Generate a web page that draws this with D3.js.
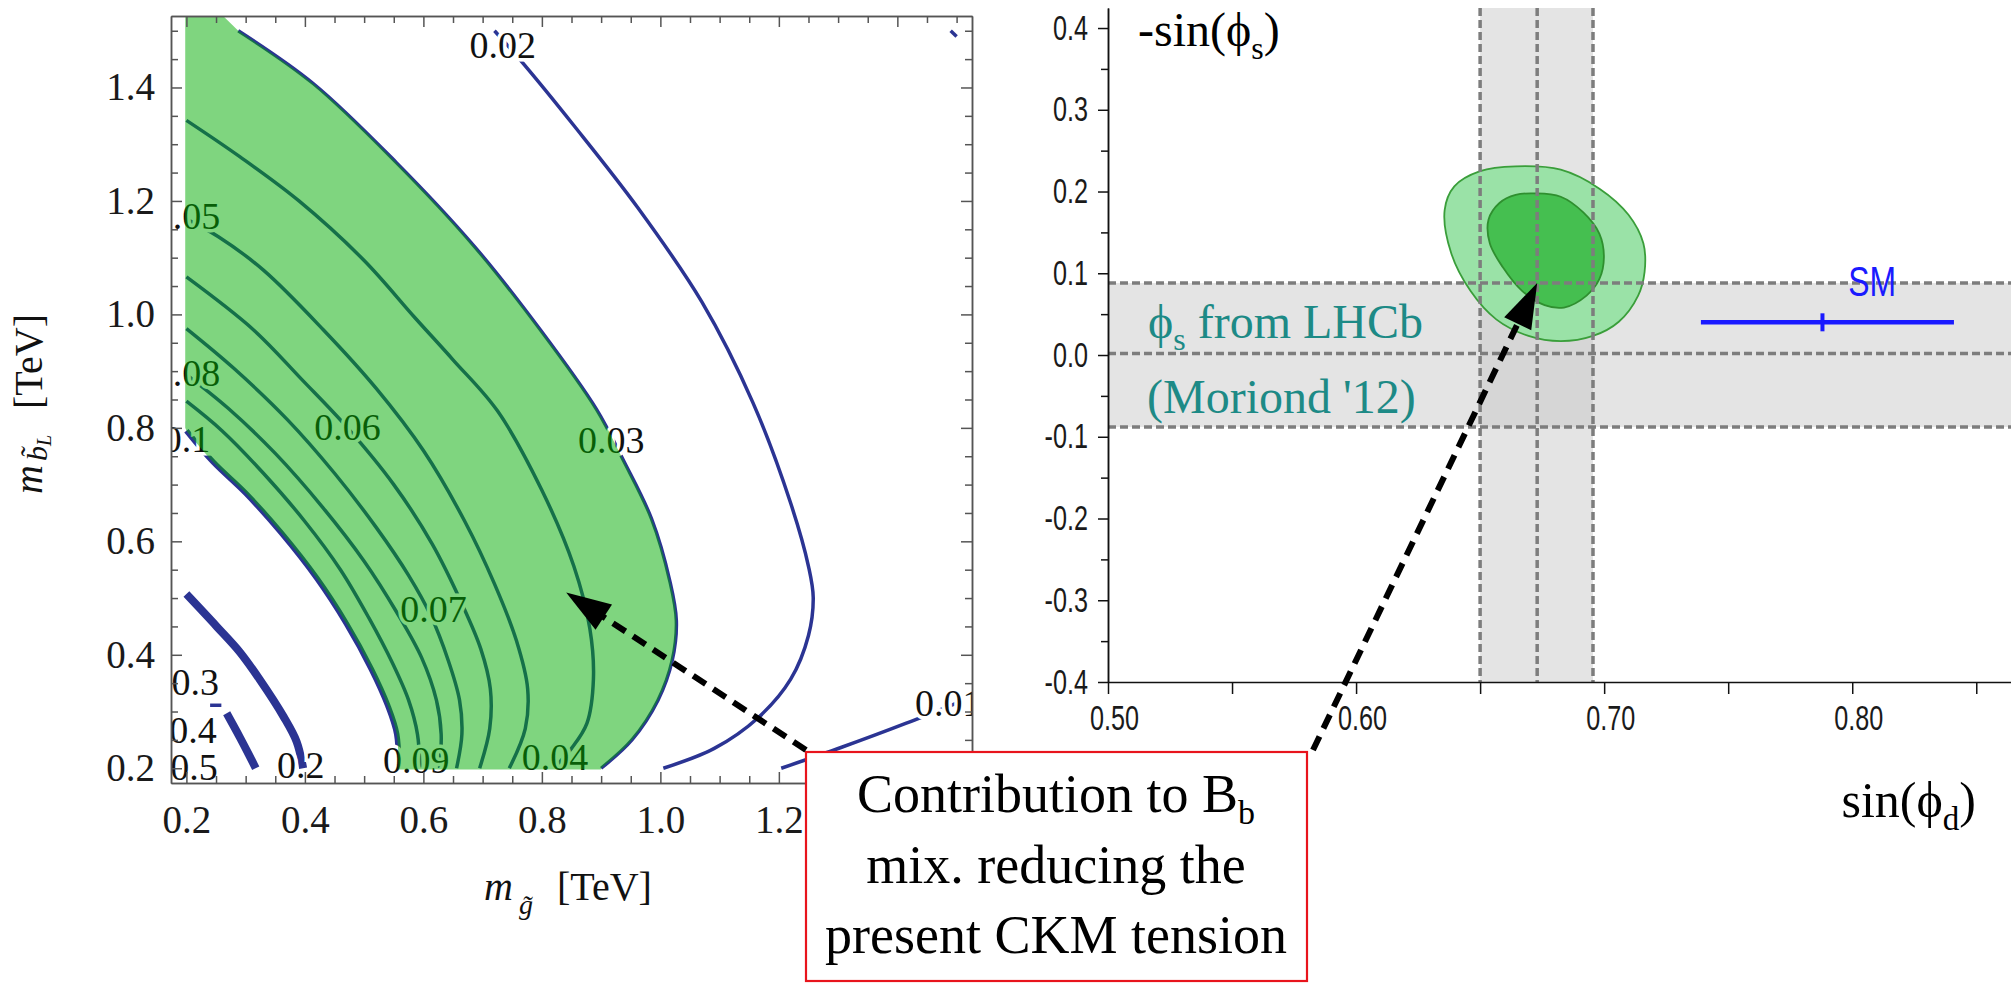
<!DOCTYPE html>
<html>
<head>
<meta charset="utf-8">
<script src="https://cdn.jsdelivr.net/npm/d3@7"></script>
<style>
  body { margin: 0; background: #fff; }
</style>
</head>
<body>
<svg id="fig" width="2011" height="986"></svg>
<script>
// ---- left panel data: contour lines (x = m_gluino, y = m_sbottom, TeV) ----
const cont001 = [[1.204,0.20],[1.306,0.237],[1.414,0.279],[1.50,0.315]];
const cont001b = [[1.49,1.50],[1.50,1.49]];
const cont002 = [[0.72,1.50],[0.768,1.443],[0.854,1.333],[0.962,1.188],[1.07,1.022],[1.156,0.845],[1.22,0.667],[1.25,0.556],[1.258,0.501],[1.25,0.434],[1.22,0.357],[1.166,0.29],[1.091,0.235],[1.005,0.20]];
const cont003 = [[0.2875,1.50],[0.414,1.407],[0.554,1.268],[0.686,1.12],[0.798,0.972],[0.892,0.833],[0.938,0.742],[0.985,0.64],[1.016,0.53],[1.027,0.46],[1.02,0.39],[0.996,0.32],[0.952,0.25],[0.90,0.20]];
const cont004 = [[0.20,1.342],[0.29,1.278],[0.39,1.20],[0.50,1.095],[0.585,0.995],[0.65,0.92],[0.725,0.83],[0.80,0.69],[0.854,0.556],[0.881,0.446],[0.887,0.357],[0.876,0.279],[0.85,0.235],[0.82,0.20]];
const cont005 = [[0.20,1.168],[0.254,1.137],[0.33,1.078],[0.431,0.973],[0.52,0.87],[0.60,0.76],[0.67,0.635],[0.72,0.525],[0.757,0.425],[0.776,0.34],[0.772,0.27],[0.745,0.20]];
const cont006 = [[0.20,1.066],[0.313,0.973],[0.395,0.885],[0.472,0.80],[0.55,0.70],[0.615,0.595],[0.665,0.49],[0.697,0.41],[0.713,0.34],[0.712,0.27],[0.695,0.20]];
const cont007 = [[0.20,0.975],[0.28,0.905],[0.37,0.815],[0.45,0.72],[0.52,0.625],[0.575,0.54],[0.612,0.47],[0.642,0.39],[0.661,0.32],[0.665,0.26],[0.656,0.20]];
const cont008 = [[0.20,0.894],[0.27,0.835],[0.35,0.755],[0.43,0.66],[0.50,0.565],[0.555,0.475],[0.597,0.395],[0.622,0.32],[0.63,0.26],[0.627,0.20]];
const cont009 = [[0.20,0.847],[0.26,0.795],[0.33,0.72],[0.40,0.635],[0.46,0.55],[0.508,0.465],[0.548,0.385],[0.575,0.32],[0.59,0.26],[0.594,0.20]];
const cont010 = [[0.20,0.795],[0.245,0.740],[0.30,0.685],[0.36,0.615],[0.42,0.535],[0.47,0.455],[0.512,0.375],[0.54,0.31],[0.555,0.26],[0.558,0.20]];
const cont02 = [[0.20,0.507],[0.251,0.45],[0.29,0.405],[0.324,0.356],[0.364,0.291],[0.386,0.247],[0.397,0.20]];
const cont03 = [[0.268,0.297],[0.29,0.255],[0.305,0.225],[0.317,0.20]];
const cont03b = [[0.240,0.311],[0.259,0.311]];

const labelText = ["0.02","0.03","0.04","0.05","0.06","0.07","0.08","0.09","0.1","0.2","0.3","0.4","0.5","0.01"];
const labelX    = [0.734, 0.917, 0.822, 0.201, 0.472, 0.617, 0.201, 0.588, 0.200, 0.393, 0.215, 0.211, 0.213, 1.486];
const labelY    = [1.474, 0.777, 0.218, 1.172, 0.800, 0.479, 0.895, 0.213, 0.778, 0.204, 0.350, 0.266, 0.200, 0.313];

const leftMajor = [0.2, 0.4, 0.6, 0.8, 1.0, 1.2, 1.4];
const leftMinor = d3.range(0.25, 1.51, 0.05).filter(v => Math.abs(v * 5 - Math.round(v * 5)) > 1e-6);

// ---- right panel data ----
const phiSBand = [-0.088, 0.002, 0.088];   // -sin(phi_s) from LHCb: low, centre, high
const phiDBand = [0.650, 0.673, 0.6955];   // sin(phi_d): low, centre, high
const outerCL = [[0.6643,0.2308],[0.6825,0.2267],[0.6981,0.2035],[0.7098,0.1715],[0.7158,0.1366],[0.7163,0.1017],[0.7137,0.0727],[0.7059,0.0407],[0.6955,0.0233],[0.6825,0.0169],[0.6695,0.0233],[0.6565,0.0436],[0.6461,0.0785],[0.6383,0.125],[0.6357,0.1773],[0.6396,0.2064],[0.65,0.225]];
const innerCL = [[0.6721,0.1977],[0.6825,0.1936],[0.6916,0.1744],[0.6981,0.1483],[0.6999,0.1192],[0.6981,0.093],[0.6929,0.0727],[0.6838,0.0581],[0.676,0.061],[0.6669,0.0785],[0.6591,0.1076],[0.6539,0.1366],[0.6534,0.1657],[0.6578,0.186],[0.6643,0.1959]];
const smPoint = [0.788, 0.040];
const smRange = [0.739, 0.841];
const rightYMajor = [-0.4, -0.3, -0.2, -0.1, 0.0, 0.1, 0.2, 0.3, 0.4];
const rightYMinor = [-0.35, -0.25, -0.15, -0.05, 0.05, 0.15, 0.25, 0.35];
const rightXTicks = [0.50, 0.55, 0.60, 0.65, 0.70, 0.75, 0.80, 0.85];
const rightXLabels = [0.50, 0.60, 0.70, 0.80];

const serif = '"Liberation Serif","Times New Roman",serif';
const sans = '"Liberation Sans",Arial,sans-serif';
const squeeze = 0.72;   // condensed look of the right panel's labels

const svg = d3.select('#fig');

// ================= left panel =================
const lx = d3.scaleLinear().domain([0.174, 1.526]).range([171, 972]);
const ly = d3.scaleLinear().domain([0.174, 1.526]).range([783, 16]);
const smooth = d3.line().x(d => lx(d[0])).y(d => ly(d[1])).curve(d3.curveCatmullRom);
const straight = d3.line().x(d => lx(d[0])).y(d => ly(d[1]));

svg.append('clipPath').attr('id', 'clipL')
  .append('rect').attr('x', 171).attr('y', 16).attr('width', 801).attr('height', 767);
const plotL = svg.append('g').attr('clip-path', 'url(#clipL)');

const navy = '#2b3493';
const thin = [cont001, cont001b, cont002, cont003, cont004, cont005, cont006, cont007, cont008, cont009, cont03b];
plotL.selectAll('path.thin').data(thin).join('path')
  .attr('d', smooth).attr('fill', 'none').attr('stroke', navy).attr('stroke-width', 3.5);
plotL.append('path').attr('d', smooth(cont010)).attr('fill', 'none').attr('stroke', navy).attr('stroke-width', 5.5);
plotL.selectAll('path.thick').data([cont02, cont03]).join('path')
  .attr('d', smooth).attr('fill', 'none').attr('stroke', navy).attr('stroke-width', 8);

plotL.selectAll('text.lab').data(labelText).join('text')
  .attr('x', (d, i) => lx(labelX[i])).attr('y', (d, i) => ly(labelY[i]) + 12)
  .attr('text-anchor', 'middle').attr('font-family', serif).attr('font-size', 38)
  .attr('fill', '#111').attr('stroke', '#fff').attr('stroke-width', 7)
  .attr('paint-order', 'stroke').text(d => d);

// green allowed region drawn as a half-transparent overlay
const regionD = straight([[0.198, 1.526], [0.262, 1.526], cont003[0]])
  + smooth(cont003).replace(/^M/, 'L')
  + straight([[0.90, 0.198], [0.558, 0.198]]).replace(/^M/, 'L')
  + smooth(cont010.slice().reverse()).replace(/^M/, 'L')
  + straight([[0.198, 0.80]]).replace(/^M/, 'L') + 'Z';
plotL.append('path').attr('d', regionD).attr('fill', 'rgb(0,171,0)').attr('fill-opacity', 0.5);

// frame with inward ticks on all four sides
function frameAxis(axis, tf, size, values, labels, pad) {
  const g = svg.append('g').attr('transform', tf)
    .call(axis.tickValues(values).tickSize(-size).tickSizeOuter(0).tickPadding(pad)
      .tickFormat(labels ? (d => d.toFixed(1)) : ''));
  g.select('.domain').attr('stroke', '#555').attr('stroke-width', 1.5);
  g.selectAll('.tick line').attr('stroke', '#555').attr('stroke-width', 1.5);
  g.attr('font-family', serif).attr('font-size', 39).attr('fill', '#1a1a1a');
  g.selectAll('text').attr('fill', '#1a1a1a');
  return g;
}
frameAxis(d3.axisBottom(lx), 'translate(0,783)', 11, leftMajor, true, 22);
frameAxis(d3.axisBottom(lx), 'translate(0,783)', 7, leftMinor, false, 0);
frameAxis(d3.axisTop(lx), 'translate(0,16)', 11, leftMajor, false, 0);
frameAxis(d3.axisTop(lx), 'translate(0,16)', 7, leftMinor, false, 0);
frameAxis(d3.axisLeft(ly), 'translate(171,0)', 11, leftMajor, true, 16);
frameAxis(d3.axisLeft(ly), 'translate(171,0)', 7, leftMinor, false, 0);
frameAxis(d3.axisRight(ly), 'translate(972,0)', 11, leftMajor, false, 0);
frameAxis(d3.axisRight(ly), 'translate(972,0)', 7, leftMinor, false, 0);

// axis titles
const xt = svg.append('text').attr('x', 568).attr('y', 900).attr('text-anchor', 'middle')
  .attr('font-family', serif).attr('font-size', 40).attr('fill', '#111');
xt.append('tspan').attr('font-style', 'italic').text('m');
xt.append('tspan').attr('font-style', 'italic').attr('font-size', 28).attr('dx', 6).attr('dy', 14).text('g\u0303');
xt.append('tspan').attr('dx', 24).attr('dy', -14).text('[TeV]');

const yt = svg.append('text').attr('transform', 'translate(42,404) rotate(-90)').attr('text-anchor', 'middle')
  .attr('font-family', serif).attr('font-size', 40).attr('fill', '#111');
yt.append('tspan').attr('font-style', 'italic').text('m');
yt.append('tspan').attr('font-style', 'italic').attr('font-size', 30).attr('dx', 4).attr('dy', 5).text('b\u0303');
yt.append('tspan').attr('font-style', 'italic').attr('font-size', 20).attr('dy', 4).text('L');
yt.append('tspan').attr('dx', 26).attr('dy', -9).text('[TeV]');

// ================= right panel =================
const rx = d3.scaleLinear().domain([0.5, 0.864]).range([1108, 2011]);
const ry = d3.scaleLinear().domain([-0.4, 0.4245]).range([682, 8]);
const right = svg.append('g');

right.append('rect').attr('x', rx(0.5)).attr('width', 2011 - rx(0.5))
  .attr('y', ry(phiSBand[2])).attr('height', ry(phiSBand[0]) - ry(phiSBand[2])).attr('fill', '#e4e4e4');
right.append('rect').attr('x', rx(phiDBand[0])).attr('width', rx(phiDBand[2]) - rx(phiDBand[0]))
  .attr('y', ry(0.4245)).attr('height', ry(-0.4) - ry(0.4245)).attr('fill', '#e4e4e4');
right.append('rect').attr('x', rx(phiDBand[0])).attr('width', rx(phiDBand[2]) - rx(phiDBand[0]))
  .attr('y', ry(phiSBand[2])).attr('height', ry(phiSBand[0]) - ry(phiSBand[2])).attr('fill', '#d6d6d6');

const closed = d3.line().x(d => rx(d[0])).y(d => ry(d[1])).curve(d3.curveCatmullRomClosed);
right.append('path').attr('d', closed(outerCL)).attr('fill', '#9ae2a7').attr('stroke', '#3a9e3a').attr('stroke-width', 1.8);
right.append('path').attr('d', closed(innerCL)).attr('fill', '#45bf50').attr('stroke', '#2f8f2f').attr('stroke-width', 1.8);

right.selectAll('line.vband').data(phiDBand).join('line')
  .attr('x1', d => rx(d)).attr('x2', d => rx(d)).attr('y1', ry(0.4245)).attr('y2', ry(-0.4))
  .attr('stroke', '#7d7d7d').attr('stroke-width', 3.5).attr('stroke-dasharray', '8,4');
right.selectAll('line.hband').data(phiSBand).join('line')
  .attr('x1', rx(0.5)).attr('x2', 2011).attr('y1', d => ry(d)).attr('y2', d => ry(d))
  .attr('stroke', '#7d7d7d').attr('stroke-width', 3.5).attr('stroke-dasharray', '8,4');

// SM point
const smBlue = '#1a1aff';
right.append('line').attr('x1', rx(smRange[0])).attr('x2', rx(smRange[1]))
  .attr('y1', ry(smPoint[1])).attr('y2', ry(smPoint[1])).attr('stroke', smBlue).attr('stroke-width', 4.5);
right.append('line').attr('x1', rx(smPoint[0])).attr('x2', rx(smPoint[0]))
  .attr('y1', ry(smPoint[1]) - 9).attr('y2', ry(smPoint[1]) + 9).attr('stroke', smBlue).attr('stroke-width', 4);
right.append('g').attr('transform', `translate(${rx(0.808)},${ry(0.072)}) scale(0.76,1)`)
  .append('text').attr('text-anchor', 'middle')
  .attr('font-family', sans).attr('font-size', 42).attr('fill', smBlue).text('SM');

// axes
const fmtY = d => (d < -1e-9 ? '-' : '') + Math.abs(d).toFixed(1);
function styleAxis(g) {
  g.select('.domain').attr('stroke', '#111').attr('stroke-width', 1.5);
  g.selectAll('.tick line').attr('stroke', '#111').attr('stroke-width', 1.5);
  g.attr('font-family', sans).attr('font-size', 35);
  g.selectAll('text').attr('fill', '#1a1a1a');
}
right.append('g').attr('transform', 'translate(1108,0)')
  .call(d3.axisLeft(ry).tickValues(rightYMinor).tickSize(7).tickSizeOuter(0).tickFormat(''))
  .call(styleAxis);
right.append('g').attr('transform', 'translate(1108,0)')
  .call(d3.axisLeft(ry).tickValues(rightYMajor).tickSize(10).tickSizeOuter(0).tickPadding(10).tickFormat(fmtY))
  .call(styleAxis)
  .selectAll('text').attr('x', -20 / squeeze).attr('transform', `scale(${squeeze},1)`);
right.append('g').attr('transform', 'translate(0,682)')
  .call(d3.axisBottom(rx).tickValues(rightXTicks).tickSize(12).tickSizeOuter(0).tickPadding(11)
    .tickFormat(d => rightXLabels.some(v => Math.abs(v - d) < 1e-9) ? d.toFixed(2) : ''))
  .call(styleAxis)
  .selectAll('text').attr('dx', 6 / squeeze).attr('transform', `scale(${squeeze},1)`);

// titles and band annotation
const phi = '\u03d5';
const st = right.append('text').attr('x', 1138).attr('y', 46).attr('font-family', serif).attr('font-size', 48).attr('fill', '#000');
st.append('tspan').text('-sin(' + phi);
st.append('tspan').attr('font-size', 32).attr('dy', 13).text('s');
st.append('tspan').attr('dy', -13).text(')');

const dt = right.append('text').attr('x', 1976).attr('y', 817).attr('text-anchor', 'end').attr('font-family', serif).attr('font-size', 50).attr('fill', '#000');
dt.append('tspan').text('sin(' + phi);
dt.append('tspan').attr('font-size', 33).attr('dy', 13).text('d');
dt.append('tspan').attr('dy', -13).text(')');

const teal = '#1d8a86';
const l1 = right.append('text').attr('x', 1148).attr('y', 338).attr('font-family', serif).attr('font-size', 48).attr('fill', teal);
l1.append('tspan').text(phi);
l1.append('tspan').attr('font-size', 32).attr('dy', 12).text('s');
l1.append('tspan').attr('dy', -12).text(' from LHCb');
right.append('text').attr('x', 1147).attr('y', 413).attr('font-family', serif).attr('font-size', 48).attr('fill', teal)
  .text("(Moriond '12)");

// ================= callout box and arrows =================
const box = {x0: 806, y0: 752, x1: 1307, y1: 981};
svg.append('rect').attr('x', box.x0).attr('y', box.y0).attr('width', box.x1 - box.x0).attr('height', box.y1 - box.y0)
  .attr('fill', '#fff').attr('stroke', '#e8141c').attr('stroke-width', 2.2);
const bt = svg.append('g').attr('font-family', serif).attr('font-size', 54).attr('fill', '#000').attr('text-anchor', 'middle');
const t1 = bt.append('text').attr('x', 1056).attr('y', 812);
t1.append('tspan').text('Contribution to B');
t1.append('tspan').attr('font-size', 34).attr('dy', 12).text('b');
bt.append('text').attr('x', 1056).attr('y', 883).text('mix. reducing the');
bt.append('text').attr('x', 1056).attr('y', 953).text('present CKM tension');

function arrow(x0, y0, x1, y1) {
  const dx = x1 - x0, dy = y1 - y0, L = Math.hypot(dx, dy), ux = dx / L, uy = dy / L;
  const hl = 45, hw = 15, bx = x1 - ux * hl, by = y1 - uy * hl;
  svg.append('line').attr('x1', x0).attr('y1', y0).attr('x2', bx + ux * 4).attr('y2', by + uy * 4)
    .attr('stroke', '#000').attr('stroke-width', 6).attr('stroke-dasharray', '15,9');
  svg.append('path').attr('d', `M${x1},${y1}L${bx - uy * hw},${by + ux * hw}L${bx + uy * hw},${by - ux * hw}Z`).attr('fill', '#000');
}
arrow(box.x0, box.y0 - 2, lx(0.841), ly(0.51));
arrow(box.x1 + 6, box.y0 - 2, rx(phiDBand[1]), ry(phiSBand[2]));
</script>
</body>
</html>
